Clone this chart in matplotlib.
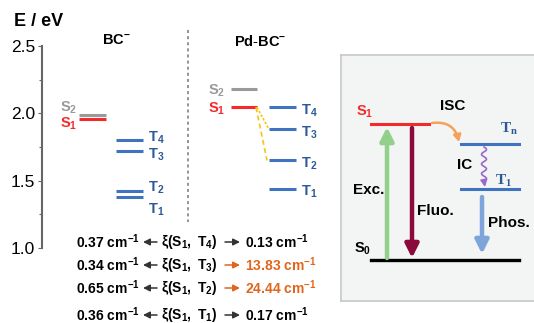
import matplotlib
matplotlib.use("Agg")
import matplotlib.pyplot as plt
import numpy as np
from matplotlib.patches import FancyArrowPatch

plt.rcParams['font.family'] = ['Liberation Sans', 'DejaVu Sans']
plt.rcParams['mathtext.fontset'] = 'custom'
plt.rcParams['mathtext.rm'] = 'Liberation Sans'
plt.rcParams['mathtext.bf'] = 'Liberation Sans:bold'
plt.rcParams['mathtext.it'] = 'Liberation Sans:italic'

# energies (eV)
bc_singlets = [1.99, 1.955]               # S2, S1
bc_triplets = [1.80, 1.72, 1.42, 1.375]   # T4, T3, T2, T1
pd_singlets = [2.18, 2.045]
pd_triplets = [2.045, 1.88, 1.65, 1.44]
singlet_names = ["S_2", "S_1"]
triplet_names = ["T_4", "T_3", "T_2", "T_1"]

# spin-orbit coupling table
soc_bc = ["0.37", "0.34", "0.65", "0.36"]
soc_pd = ["0.13", "13.83", "24.44", "0.17"]
soc_pairs = ["T_4", "T_3", "T_2", "T_1"]
soc_hot = [False, True, True, False]

RED = "#f42a2a"
GRAY = "#9a9a9a"
BLUE = "#3f72bf"
DBLUE = "#2b5a96"
ORANGE = "#e0661e"

W, H = 534, 323
fig = plt.figure(figsize=(W / 100, H / 100), dpi=100)


def fx(x):
    return x / W


def fy(y):
    return 1 - y / H


# left energy axis: 2.5 eV at y=46 px, 1.0 eV at y=248 px
ppe = (248 - 46) / 1.5
ax = fig.add_axes([fx(42), 0, fx(340 - 42), 1])
ax.set_ylim(2.5 - (H - 46) / ppe, 2.5 + 46 / ppe)
ax.set_xlim(0, 298)
for s in ["top", "right", "bottom"]:
    ax.spines[s].set_visible(False)
ax.spines["left"].set_bounds(1.0, 2.5)
ax.spines["left"].set_color("#666666")
ax.spines["left"].set_linewidth(1.5)
ax.set_xticks([])
ax.set_yticks([1.0, 1.5, 2.0, 2.5])
ax.set_yticklabels(["1.0", "1.5", "2.0", "2.5"])
ax.set_yticks([1.25, 1.75, 2.25], minor=True)
ax.tick_params(axis="y", which="major", length=3, width=0.8, labelsize=12.5, pad=2, color="#666666")
ax.tick_params(axis="y", which="minor", length=2, width=0.8, color="#666666")
ax.patch.set_alpha(0)

fig.text(fx(14), fy(22), "E / eV", fontsize=13, fontweight="bold", va="center", ha="left")
ax.text(74, 2.5 + 6 / ppe, r"$\mathbf{BC^{-}}$", fontsize=10.5, ha="center", va="center")
ax.text(218, 2.5 + 4 / ppe, r"$\mathbf{Pd\text{-}BC^{-}}$", fontsize=10.5, ha="center", va="center")

# dashed divider
ax.plot([146, 146], [2.5 + 16 / ppe, 2.5 - (222 - 46) / ppe], ls=(0, (2, 2)), color="#777777", lw=1.1)

# BC- levels
s_col = [GRAY, RED]
for e, c, name, dy in zip(bc_singlets, s_col, singlet_names, [0.05, -0.035]):
    ax.plot([37, 64], [e, e], color=c, lw=2.2, solid_capstyle="butt")
    ax.text(35, e + dy, "$\\mathbf{%s}$" % name, color=c, fontsize=10.5, ha="right", va="center")
for e, name, dy in zip(bc_triplets, triplet_names, [0.015, -0.03, 0.03, -0.09]):
    ax.plot([74, 101], [e, e], color=BLUE, lw=2.2, solid_capstyle="butt")
    ax.text(106, e + dy, "$\\mathbf{%s}$" % name, color=DBLUE, fontsize=10.5, ha="left", va="center")

# Pd-BC- levels
for e, c, name in zip(pd_singlets, s_col, singlet_names):
    ax.plot([189, 215], [e, e], color=c, lw=2.2, solid_capstyle="butt")
    ax.text(183, e - 0.015, "$\\mathbf{%s}$" % name, color=c, fontsize=10.5, ha="right", va="center")
for e, name in zip(pd_triplets, triplet_names):
    ax.plot([227, 254], [e, e], color=BLUE, lw=2.2, solid_capstyle="butt")
    ax.text(259, e - 0.025, "$\\mathbf{%s}$" % name, color=DBLUE, fontsize=10.5, ha="left", va="center")

# ISC channels in Pd-BC-
ax.plot([215, 227], [pd_singlets[1], pd_triplets[1]], color="#f5c518", lw=1.2, ls=(0, (1.5, 1)))
ax.plot([214, 225], [pd_singlets[1], pd_triplets[2]], color="#f5c518", lw=1.2, ls=(0, (3, 2)))

# coupling table
row_y = [242, 265, 288, 315]
for y, a, b, t, hot in zip(row_y, soc_bc, soc_pd, soc_pairs, soc_hot):
    fig.text(fx(140), fy(y), r"$\mathbf{%s\ cm^{-1}}$" % a, fontsize=10, ha="right", va="center")
    fig.text(fx(189), fy(y), r"$\mathbf{\xi(S_1,\ %s)}$" % t, fontsize=10, ha="center", va="center")
    rc = ORANGE if hot else "black"
    fig.text(fx(245), fy(y), r"$\mathbf{%s\ cm^{-1}}$" % b, fontsize=10, ha="left", va="center", color=rc)
    fig.add_artist(FancyArrowPatch((fx(157), fy(y)), (fx(143), fy(y)), transform=fig.transFigure,
                                   arrowstyle="-|>,head_length=4,head_width=2", color="#333333", lw=1.1,
                                   shrinkA=0, shrinkB=0))
    fig.add_artist(FancyArrowPatch((fx(225), fy(y)), (fx(240), fy(y)), transform=fig.transFigure,
                                   arrowstyle="-|>,head_length=4,head_width=2",
                                   color=ORANGE if hot else "#333333", lw=1.1, shrinkA=0, shrinkB=0))

# right panel: Jablonski diagram
bx = fig.add_axes([fx(341), fy(301), fx(534 - 341), fy(55) - fy(301)])
bx.set_xlim(341, 534)
bx.set_ylim(301, 55)
bx.set_xticks([])
bx.set_yticks([])
bx.set_facecolor("#f3f4f4")
for s in bx.spines.values():
    s.set_color("#c8c8c8")
    s.set_linewidth(1.2)
bx.spines["right"].set_visible(False)

lv_s1, lv_tn, lv_t1, lv_s0 = 124, 144, 189, 260
bx.plot([371, 429], [lv_s1, lv_s1], color=RED, lw=2.2)
bx.plot([461, 519], [lv_tn, lv_tn], color=BLUE, lw=2.2)
bx.plot([461, 519], [lv_t1, lv_t1], color=BLUE, lw=2.2)
bx.plot([371, 519], [lv_s0, lv_s0], color="black", lw=2.4)

head = "-|>,head_length=0.8,head_width=0.4"
bx.annotate("", xy=(387, lv_s1 + 3), xytext=(387, lv_s0 - 2),
            arrowprops=dict(arrowstyle=head, color="#93d08c", lw=3.2, shrinkA=0, shrinkB=0))
bx.annotate("", xy=(412, lv_s0 - 2), xytext=(412, lv_s1 + 4),
            arrowprops=dict(arrowstyle=head, color="#8b0a3c", lw=3.2, shrinkA=0, shrinkB=0))
bx.annotate("", xy=(482, lv_s0 - 6), xytext=(482, lv_t1 + 8),
            arrowprops=dict(arrowstyle=head, color="#7ea5da", lw=3.2, shrinkA=0, shrinkB=0))
bx.annotate("", xy=(459, lv_tn - 2), xytext=(432, lv_s1 - 1),
            arrowprops=dict(arrowstyle="-|>,head_length=0.4,head_width=0.22", color="#f4a15c", lw=1.8,
                            connectionstyle="arc3,rad=-0.45", shrinkA=0, shrinkB=0))

# IC squiggle
wy = np.linspace(lv_tn + 3, lv_t1 - 8, 60)
wx = 484 + 2.5 * np.sin((wy - wy[0]) / (wy[-1] - wy[0]) * 2 * np.pi * 3.5)
bx.plot(wx, wy, color="#9a6ac8", lw=1.2)
bx.annotate("", xy=(485, lv_t1 - 2), xytext=(wx[-1], wy[-1]),
            arrowprops=dict(arrowstyle="-|>,head_length=0.4,head_width=0.2", color="#9a6ac8", lw=1.2,
                            shrinkA=0, shrinkB=0))

bx.text(365, 112, r"$\mathbf{S_1}$", color=RED, fontsize=10.5, ha="center", va="center")
bx.text(453, 106, "ISC", fontsize=11, fontweight="bold", ha="center", va="center")
bx.text(509, 129, r"T$_\mathregular{n}$", color=DBLUE, fontsize=11, fontweight="bold",
        family="Liberation Serif", ha="center", va="center")
bx.text(465, 165, "IC", fontsize=11, fontweight="bold", ha="center", va="center")
bx.text(504, 181, r"T$_\mathregular{1}$", color=DBLUE, fontsize=11, fontweight="bold",
        family="Liberation Serif", ha="center", va="center")
bx.text(369, 190, "Exc.", fontsize=11, fontweight="bold", ha="center", va="center")
bx.text(435, 211, "Fluo.", fontsize=11, fontweight="bold", ha="center", va="center")
bx.text(509, 223, "Phos.", fontsize=11, fontweight="bold", ha="center", va="center")
bx.text(363, 249, r"$\mathbf{S_0}$", fontsize=10.5, ha="center", va="center")

fig.savefig("out.png", dpi=100)
